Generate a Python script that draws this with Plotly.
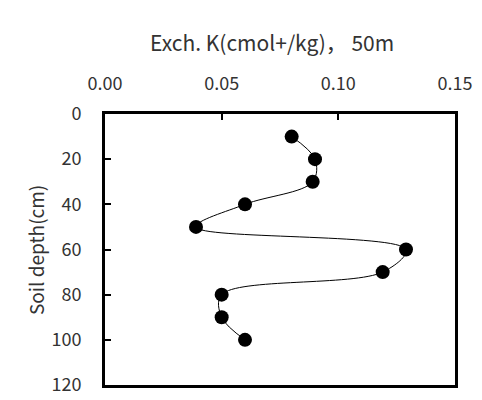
import plotly.graph_objects as go

depth = [10, 20, 30, 40, 50, 60, 70, 80, 90, 100]
exch_k = [0.080, 0.090, 0.089, 0.060, 0.039, 0.129, 0.119, 0.050, 0.050, 0.060]
x_ticks = [0.00, 0.05, 0.10, 0.15]
x_tick_labels = ["0.00", "0.05", "0.10", "0.15"]
y_ticks = [0, 20, 40, 60, 80, 100, 120]

FONT = "Noto Sans CJK KR"
L, R, T, B = 105, 455, 114, 385  # plot area in pixels

fig = go.Figure()
fig.add_trace(go.Scatter(
    x=exch_k, y=depth, mode="lines+markers",
    line=dict(color="black", width=1, shape="spline", smoothing=1.0),
    marker=dict(color="black", size=14),
    showlegend=False,
))

fig.update_layout(
    width=482, height=400,
    margin=dict(l=L, r=482 - R, t=T, b=400 - B, autoexpand=False),
    paper_bgcolor="white", plot_bgcolor="white",
    font=dict(family=FONT, size=18, color="#333"),
    annotations=[
        dict(text="Exch. K(cmol+/kg)， 50m", xref="paper", yref="paper",
             x=(272 - L) / (R - L), y=(B - 42) / (B - T),
             xanchor="center", yanchor="middle", showarrow=False,
             font=dict(size=21, family=FONT, color="#333")),
        dict(text="Soil depth(cm)", xref="paper", yref="paper",
             x=(35 - L) / (R - L), y=(B - 250) / (B - T), textangle=-90,
             xanchor="center", yanchor="middle", showarrow=False,
             font=dict(size=19, family=FONT, color="#333")),
    ],
)

fig.update_xaxes(
    side="top", range=[0, 0.15], tickvals=x_ticks, ticktext=x_tick_labels,
    ticks="inside", ticklen=6, tickwidth=2, tickcolor="black",
    showline=True, linewidth=3, linecolor="black", mirror=True,
    showgrid=False, zeroline=False, automargin=False, ticklabelstandoff=14,
)
fig.update_yaxes(
    range=[120, 0], tickvals=y_ticks,
    ticks="inside", ticklen=6, tickwidth=2, tickcolor="black",
    showline=True, linewidth=3, linecolor="black", mirror=True,
    showgrid=False, zeroline=False, automargin=False, ticklabelstandoff=17,
)

fig.write_html("out.html", config={"displayModeBar": False},
               post_script="document.body.style.margin='0';document.body.style.overflow='hidden';")
